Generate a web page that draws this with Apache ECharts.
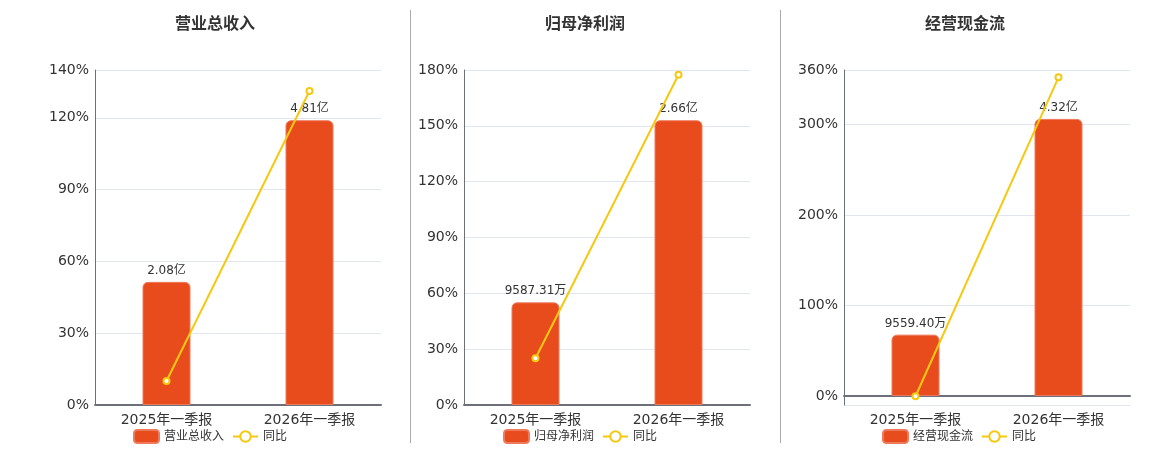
<!DOCTYPE html>
<html>
<head>
<meta charset="utf-8">
<script src="https://cdn.jsdelivr.net/npm/echarts@6/dist/echarts.min.js"></script>
<style>
  html, body { margin: 0; padding: 0; background: #fff; }
  #main { width: 1160px; height: 450px; }
</style>
</head>
<body>
<div id="main"></div>
<script>
var categories = ['2025年一季报', '2026年一季报'];
var titles = ['营业总收入', '归母净利润', '经营现金流'];
// bar values in 亿
var revenue = [2.08, 4.81];
var netProfit = [0.958731, 2.66];
var cashFlow = [0.95594, 4.32];
// yoy %
var revenueYoy = [10.03, 131.25];
var netProfitYoy = [25.1, 177.45];
var cashFlowYoy = [-0.3, 351.91];

var barData = [revenue, netProfit, cashFlow];
var yoyData = [revenueYoy, netProfitYoy, cashFlowYoy];

var gridLeft = [95, 464, 844];
var titleLeft = [170, 540, 920];
var legendLeft = [128, 498, 877];

var myChart = echarts.init(document.getElementById('main'));

function fmtMoney(v) {
    if (v < 1) return (v * 10000).toFixed(2) + '万';
    return v.toFixed(2) + '亿';
}

var option = {
    animation: false,
    textStyle: { fontFamily: '"DejaVu Sans", "Noto Sans CJK SC", sans-serif' },
    title: [], legend: [], grid: [], xAxis: [], yAxis: [], series: [],
    graphic: [
        { type: 'line', shape: { x1: 410.5, y1: 10, x2: 410.5, y2: 443 }, style: { stroke: '#aaa', lineWidth: 1 } },
        { type: 'line', shape: { x1: 780.5, y1: 10, x2: 780.5, y2: 443 }, style: { stroke: '#aaa', lineWidth: 1 } }
    ]
};

for (var i = 0; i < 3; i++) {
    var yMax = Math.ceil(Math.max.apply(null, yoyData[i]) / 10) * 10;
    var yMin = Math.min(0, Math.floor(Math.min.apply(null, yoyData[i]) / 10) * 10);
    var bMax = Math.max.apply(null, barData[i]) / 0.85;
    var bMin = yMin / yMax * bMax;

    option.title.push({
        text: titles[i], left: titleLeft[i], top: 12,
        textStyle: { fontSize: 16, fontWeight: 'bold', color: '#333' }
    });
    option.legend.push({
        data: [titles[i], '同比'], left: legendLeft[i], top: 424,
        itemWidth: 25, itemHeight: 13, itemGap: 8,
        textStyle: { fontSize: 12, color: '#333' }
    });
    option.grid.push({ left: gridLeft[i], width: 286, top: 70, height: 335 });
    option.xAxis.push({
        type: 'category', gridIndex: i, data: categories,
        axisLine: { lineStyle: { color: '#6E7079', width: 2 } },
        axisTick: { lineStyle: { color: '#6E7079' } },
        axisLabel: { fontSize: 14, color: '#333', margin: 8 }
    });
    option.yAxis.push({
        type: 'value', gridIndex: i, min: yMin, max: yMax,
        axisLine: { show: true, lineStyle: { color: '#6E7079', width: 1 } },
        axisTick: { show: false },
        axisLabel: {
            fontSize: 14, color: '#333', margin: 6,
            formatter: function (v) { return v < 0 ? '' : v + '%'; }
        },
        splitLine: { lineStyle: { color: '#E0E6F1' } }
    });
    option.yAxis.push({
        type: 'value', gridIndex: i, min: bMin, max: bMax, show: false,
        splitLine: { show: false }
    });
    option.series.push({
        name: titles[i], type: 'bar', xAxisIndex: i, yAxisIndex: i * 2 + 1,
        data: barData[i], barWidth: 48,
        itemStyle: { color: '#E84C1D', borderRadius: [5, 5, 0, 0], borderColor: '#EE7A5C', borderWidth: 1 },
        label: {
            show: true, position: 'top', fontSize: 12, color: '#333',
            formatter: function (p) { return fmtMoney(p.value); }
        }
    });
    option.series.push({
        name: '同比', type: 'line', xAxisIndex: i, yAxisIndex: i * 2,
        data: yoyData[i], z: 5,
        symbol: 'emptyCircle', symbolSize: 6,
        lineStyle: { color: '#F5C811', width: 2 },
        itemStyle: { color: '#F5C811' }
    });
}

myChart.setOption(option);
window.onresize = function () { myChart.resize(); };
</script>
</body>
</html>
